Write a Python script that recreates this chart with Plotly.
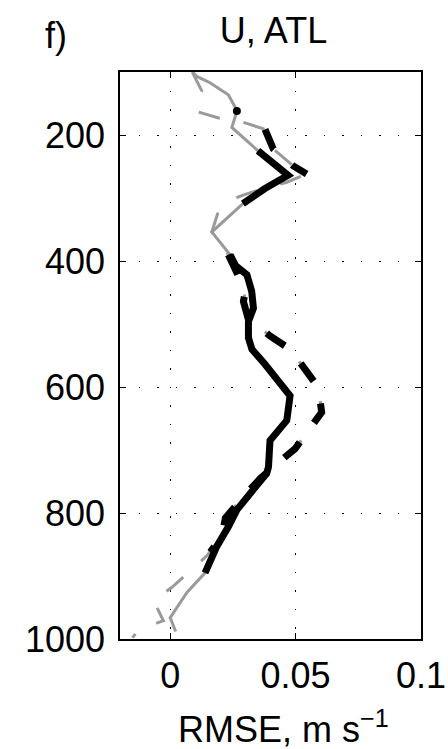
import plotly.graph_objects as go

# Solid profile (pressure hPa, RMSE m/s)
solid_p = [100, 107, 117, 136, 156, 162, 188, 225, 264, 285, 309, 354, 390, 407, 422, 448, 475,
           496, 522, 540, 564, 590, 614, 653, 685, 727, 737, 769, 795, 821, 853, 895, 926, 966, 988]
solid_v = [0.0090, 0.0106, 0.0159, 0.0232, 0.0259, 0.0266, 0.0246, 0.0350, 0.0470, 0.0378, 0.0290,
           0.0166, 0.0239, 0.0260, 0.0306, 0.0325, 0.0332, 0.0312, 0.0312, 0.0326, 0.0378, 0.0432,
           0.0478, 0.0465, 0.0398, 0.0392, 0.0385, 0.0319, 0.0266, 0.0233, 0.0186, 0.0139, 0.0067,
           0.0000, 0.0022]
solid_sig = [0, 0, 0, 0, 0, 0, 0, 1, 1, 1, 1, 0, 1, 1, 1, 1, 1, 1, 1, 1, 1, 1, 1, 1, 1, 1, 1, 1,
             1, 1, 1, 1, 0, 0, 0]

# Dashed profile
dash_p = [100, 130, 162, 173, 180, 191, 222, 249, 262, 275, 290, 298, 320, 354, 390, 420, 448,
          464, 490, 519, 540, 572, 601, 640, 666, 698, 722, 745, 774, 808, 837, 862, 868, 892,
          918, 939, 971, 985, 998]
dash_v = [0.0088, 0.0126, 0.0100, 0.0193, 0.0292, 0.0378, 0.0411, 0.0491, 0.0544, 0.0465, 0.0332,
          0.0272, 0.0193, 0.0166, 0.0232, 0.0270, 0.0300, 0.0292, 0.0310, 0.0398, 0.0478, 0.0538,
          0.0591, 0.0604, 0.0558, 0.0498, 0.0425, 0.0360, 0.0292, 0.0220, 0.0206, 0.0160, 0.0146,
          0.0080, 0.0007, -0.0066, -0.0027, -0.0127, -0.0150]
dash_sig = [0, 0, 0, 0, 0, 1, 1, 1, 1, 0, 0, 0, 0, 0, 1, 1, 1, 1, 1, 1, 1, 1, 1, 1, 1, 1, 1, 1,
            1, 1, 1, 1, 0, 0, 0, 0, 0, 0, 0]

dot_p = [162]
dot_v = [0.0266]

x_ticks = [0, 0.05, 0.1]
x_ticklabels = ["0", "0.05", "0.1"]
y_ticks = [200, 400, 600, 800, 1000]
y_ticklabels = ["200", "400", "600", "800", "1000"]


def masked(vals, sig):
    return [v if s else None for v, s in zip(vals, sig)]


GRAY = "#9a9a9a"
DASH = "22px,24px"

fig = go.Figure()
fig.add_trace(go.Scatter(x=solid_v, y=solid_p, mode="lines",
                         line=dict(color=GRAY, width=3), showlegend=False))
fig.add_trace(go.Scatter(x=dash_v, y=dash_p, mode="lines",
                         line=dict(color=GRAY, width=3, dash=DASH), showlegend=False))
fig.add_trace(go.Scatter(x=masked(solid_v, solid_sig), y=solid_p, mode="lines",
                         line=dict(color="black", width=7), connectgaps=False, showlegend=False))
fig.add_trace(go.Scatter(x=masked(dash_v, dash_sig), y=dash_p, mode="lines",
                         line=dict(color="black", width=7, dash=DASH), connectgaps=False,
                         showlegend=False))
fig.add_trace(go.Scatter(x=dot_v, y=dot_p, mode="markers",
                         marker=dict(color="black", size=8), showlegend=False))

FONT = "Liberation Sans, Arial, sans-serif"
FS = 36
fig.update_layout(
    width=448, height=749,
    margin=dict(l=120, r=27, t=72, b=110, autoexpand=False),
    paper_bgcolor="white", plot_bgcolor="white",
    font=dict(family=FONT, size=FS, color="black"),
    title=dict(text="U, ATL", x=(273.5 / 448), xanchor="center", xref="container",
               y=1 - 30 / 749, yanchor="middle", yref="container",
               font=dict(size=FS)),
    annotations=[
        dict(text="f)", xref="paper", yref="paper", x=(56 - 120) / 301,
             y=(639 - 35) / 567, xanchor="center", yanchor="middle",
             showarrow=False, font=dict(size=FS)),
        dict(text="RMSE, m s<sup>\u22121</sup>", xref="paper", yref="paper",
             x=(283 - 120) / 301, y=(639 - 727) / 567, xanchor="center", yanchor="middle",
             showarrow=False, font=dict(size=FS)),
    ],
)
fig.update_xaxes(
    range=[-0.02, 0.1], tickvals=x_ticks, ticktext=x_ticklabels,
    showline=True, linecolor="black", linewidth=1.5, mirror="ticks",
    ticks="inside", ticklen=6, tickwidth=1.2, tickcolor="black",
    showgrid=True, gridcolor="black", gridwidth=1.3, griddash="1.5px,17px",
    zeroline=False, ticklabelstandoff=4, automargin=False,
)
fig.update_yaxes(
    range=[1000, 100], tickvals=y_ticks, ticktext=y_ticklabels,
    showline=True, linecolor="black", linewidth=1.5, mirror="ticks",
    ticks="inside", ticklen=6, tickwidth=1.2, tickcolor="black",
    showgrid=True, gridcolor="black", gridwidth=1.3, griddash="1.5px,17px",
    zeroline=False, ticklabelstandoff=6, automargin=False,
)

fig.write_html("out.html", config={"displayModeBar": False},
               post_script="document.body.style.margin='0';")
